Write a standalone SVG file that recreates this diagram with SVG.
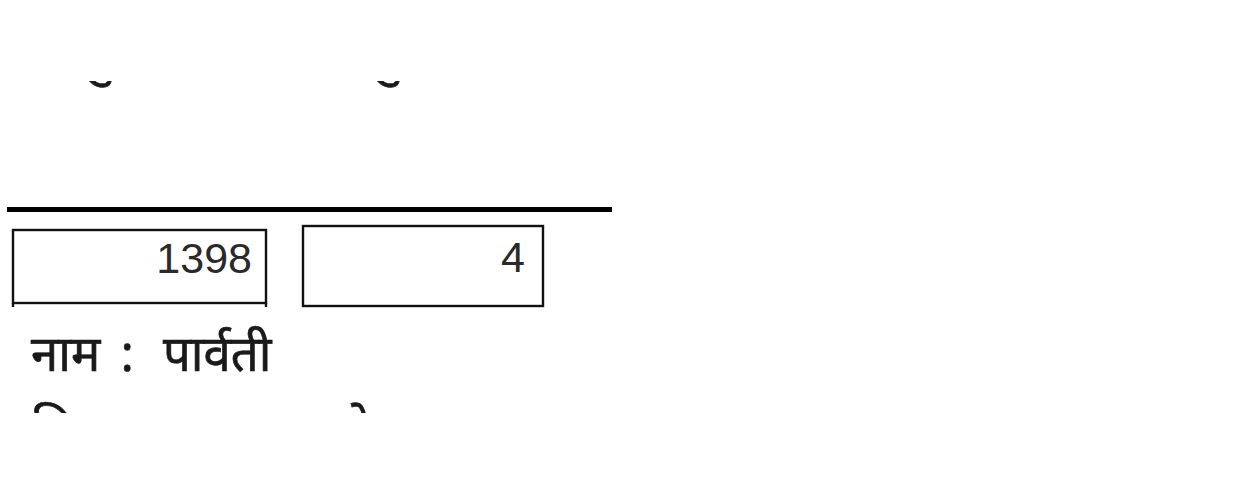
<svg xmlns="http://www.w3.org/2000/svg" width="1253" height="485" viewBox="0 0 1253 485">
  <style>
    .box { fill: #ffffff; stroke: #111111; stroke-width: 2.4; }
    .tick { stroke: #111111; stroke-width: 2.4; }
    .num { font-family: "Liberation Sans", Arial, sans-serif; font-size: 43px; fill: #2a2a2a; text-anchor: end; }
    .dev { font-family: "Noto Sans Devanagari", "Lohit Devanagari", "Noto Sans", sans-serif; font-size: 49px; fill: #1a1a1a; stroke: #1a1a1a; stroke-width: 0.7; }
  </style>
  <defs>
    <clipPath id="clipTop">
      <rect x="80" y="81" width="40" height="20"/>
      <rect x="368" y="81" width="42" height="20"/>
    </clipPath>
    <clipPath id="clipBottom"><rect x="0" y="380" width="1253" height="33"/></clipPath>
  </defs>
  <rect width="1253" height="485" fill="#ffffff"/>

  <g id="fragment-top" clip-path="url(#clipTop)">
    <text class="dev" x="82" y="74">यु</text>
    <text class="dev" x="371" y="74">गु</text>
  </g>

  <g id="rule">
    <line x1="7" y1="209.5" x2="612" y2="209.5" stroke="#000000" stroke-width="5"/>
  </g>

  <g id="box-serial">
    <rect class="box" x="13" y="230" width="253" height="73"/>
    <line class="tick" x1="13" y1="303" x2="13" y2="307"/>
    <line class="tick" x1="266" y1="303" x2="266" y2="307"/>
    <text class="num" x="252" y="273">1398</text>
  </g>

  <g id="box-house">
    <rect class="box" x="303" y="226" width="240" height="80"/>
    <text class="num" x="525" y="272">4</text>
  </g>

  <g id="name-line">
    <text class="dev" y="371"><tspan x="31">नाम</tspan><tspan x="120">:</tspan><tspan x="163">पार्वती</tspan></text>
  </g>

  <g id="fragment-bottom" clip-path="url(#clipBottom)">
    <text class="dev" x="32" y="447">पिता</text>
    <text class="dev" x="342" y="447">मे</text>
  </g>
</svg>
